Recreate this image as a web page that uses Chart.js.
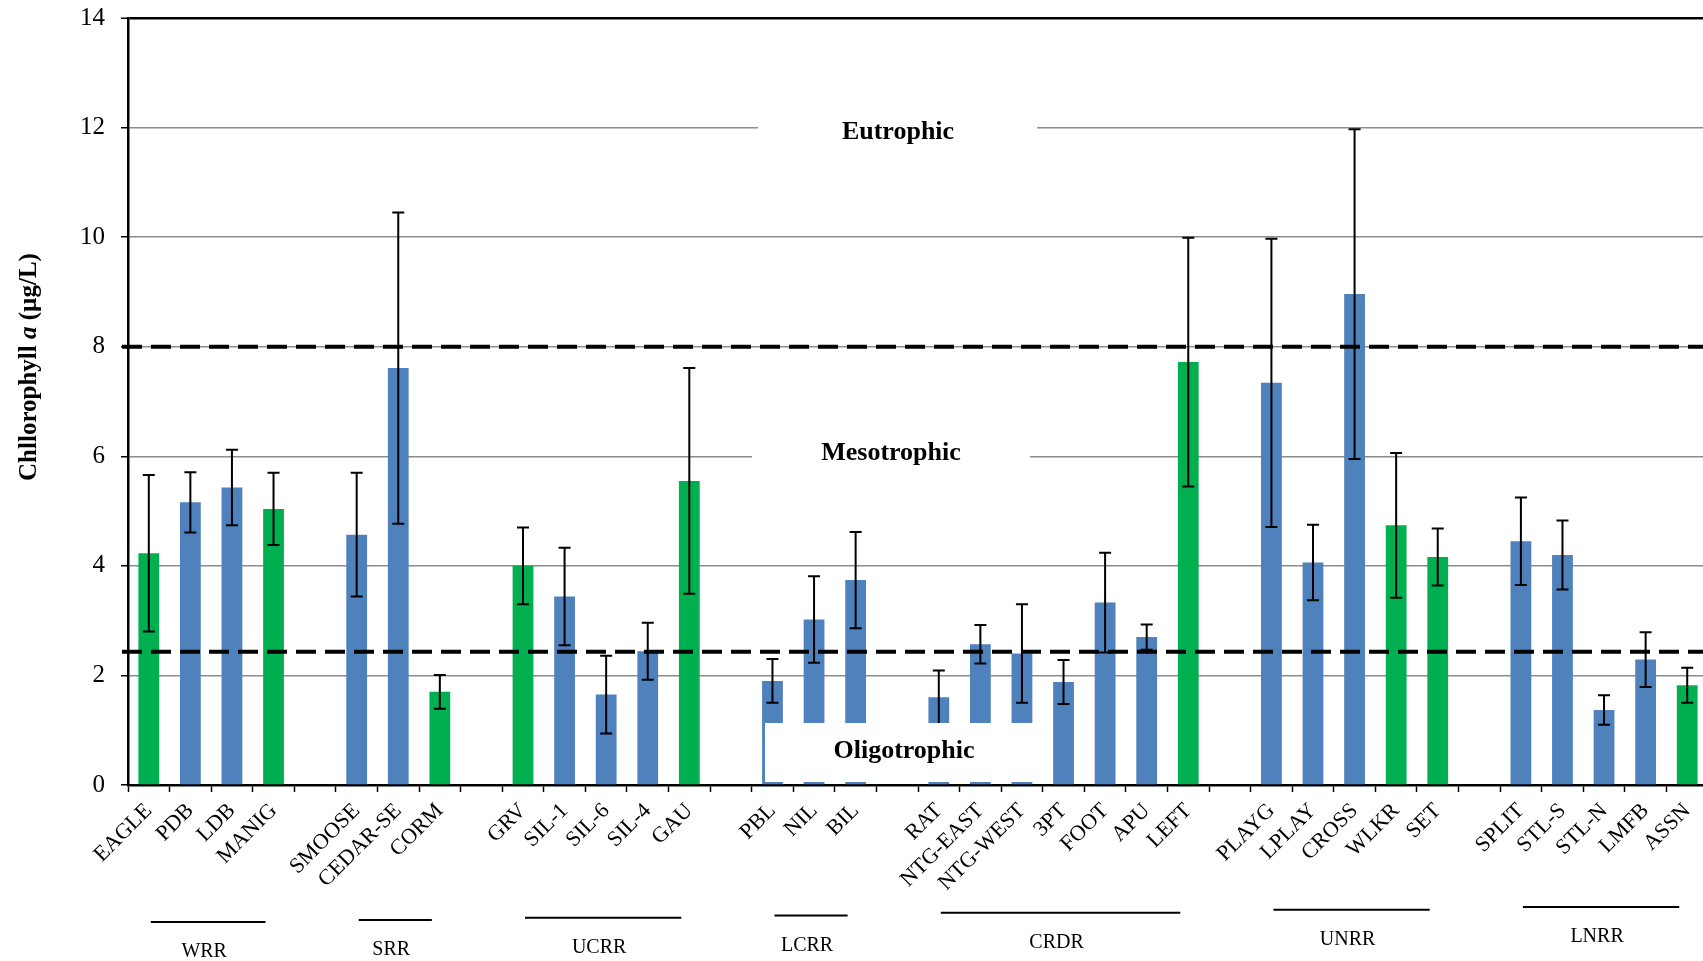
<!DOCTYPE html>
<html>
<head>
<meta charset="utf-8">
<script src="https://cdn.jsdelivr.net/npm/chart.js@4/dist/chart.umd.min.js"></script>
<style>
  html, body { margin: 0; padding: 0; background: #fff; overflow: hidden; }
  #wrap { position: relative; width: 1708px; height: 961px; }
</style>
</head>
<body>
<div id="wrap"><canvas id="chart"></canvas></div>
<script>
// Sites along the x axis ('' = gap between river groups)
const sites = ['EAGLE', 'PDB', 'LDB', 'MANIG', '',
    'SMOOSE', 'CEDAR-SE', 'CORM', '',
    'GRV', 'SIL-1', 'SIL-6', 'SIL-4', 'GAU', '',
    'PBL', 'NIL', 'BIL', '',
    'RAT', 'NTG-EAST', 'NTG-WEST', '3PT', 'FOOT', 'APU', 'LEFT', '',
    'PLAYG', 'LPLAY', 'CROSS', 'WLKR', 'SET', '',
    'SPLIT', 'STL-S', 'STL-N', 'LMFB', 'ASSN'];

// Mean chlorophyll a (ug/L)
const chlMean = [4.23, 5.16, 5.43, 5.04, null,
    4.57, 7.61, 1.70, null,
    4.00, 3.44, 1.65, 2.44, 5.55, null,
    1.90, 3.02, 3.74, null,
    1.60, 2.57, 2.40, 1.88, 3.33, 2.70, 7.72, null,
    7.34, 4.06, 8.96, 4.74, 4.16, null,
    4.45, 4.20, 1.37, 2.29, 1.82];

// Error bar half-lengths
const chlErr = [1.43, 0.55, 0.69, 0.66, null,
    1.13, 2.84, 0.31, null,
    0.70, 0.89, 0.71, 0.52, 2.06, null,
    0.40, 0.79, 0.88, null,
    0.49, 0.35, 0.90, 0.40, 0.91, 0.23, 2.27, null,
    2.63, 0.69, 3.01, 1.32, 0.52, null,
    0.80, 0.63, 0.27, 0.50, 0.32];

// Sites drawn in green
const greenSites = ['EAGLE', 'MANIG', 'CORM', 'GRV', 'GAU', 'LEFT', 'WLKR', 'SET', 'ASSN'];

// River groups
const groupNames = ['WRR', 'SRR', 'UCRR', 'LCRR', 'CRDR', 'UNRR', 'LNRR'];
const groupFirst = ['EAGLE', 'SMOOSE', 'GRV', 'PBL', 'RAT', 'PLAYG', 'SPLIT'];
const groupLast = ['MANIG', 'CORM', 'GAU', 'BIL', 'LEFT', 'SET', 'ASSN'];

// Trophic boundaries (dashed lines)
const trophicBounds = [8, 2.43];
const yTicks = [0, 2, 4, 6, 8, 10, 12, 14];

const SERIF = "'Liberation Serif', 'Times New Roman', serif";
const BLUE = '#4f81bd';
const GREEN = '#00b050';

const overlay = {
    id: 'overlay',
    beforeDatasetsDraw(chart) {
        const { ctx } = chart;
        const y = chart.scales.y;
        // white gaps in the gridlines behind the level labels
        ctx.save();
        ctx.fillStyle = '#fff';
        ctx.fillRect(758, y.getPixelForValue(12) - 4, 279, 8);
        ctx.fillRect(752, y.getPixelForValue(6) - 4, 278, 8);
        ctx.restore();
    },
    afterDatasetsDraw(chart) {
        const { ctx, chartArea } = chart;
        const y = chart.scales.y;
        ctx.save();

        // dashed trophic boundaries
        ctx.strokeStyle = '#000';
        ctx.lineWidth = 4;
        ctx.setLineDash([20, 9]);
        trophicBounds.forEach(v => {
            const py = y.getPixelForValue(v);
            ctx.beginPath();
            ctx.moveTo(chartArea.left - 6, py);
            ctx.lineTo(chartArea.right, py);
            ctx.stroke();
        });
        ctx.setLineDash([]);

        // error bars
        const meta = chart.getDatasetMeta(0);
        ctx.lineWidth = 2;
        meta.data.forEach((bar, i) => {
            if (chlMean[i] == null) return;
            const px = bar.x;
            const top = y.getPixelForValue(chlMean[i] + chlErr[i]);
            const bot = y.getPixelForValue(chlMean[i] - chlErr[i]);
            ctx.beginPath();
            ctx.moveTo(px, top);
            ctx.lineTo(px, bot);
            ctx.moveTo(px - 6, top);
            ctx.lineTo(px + 6, top);
            ctx.moveTo(px - 6, bot);
            ctx.lineTo(px + 6, bot);
            ctx.stroke();
        });

        // oligotrophic label box sits over the bars
        ctx.fillStyle = '#fff';
        ctx.fillRect(765, 723, 275, 59);

        ctx.fillStyle = '#000';
        ctx.font = 'bold 26px ' + SERIF;
        ctx.textAlign = 'center';
        ctx.textBaseline = 'middle';
        ctx.fillText('Eutrophic', 898, 132);
        ctx.fillText('Mesotrophic', 891, 453);
        ctx.fillText('Oligotrophic', 904, 751);
        ctx.restore();
    },
    afterDraw(chart) {
        const { ctx } = chart;
        const x = chart.scales.x;
        ctx.save();

        // river group brackets
        ctx.strokeStyle = '#000';
        ctx.fillStyle = '#000';
        ctx.lineWidth = 2;
        ctx.font = '20px ' + SERIF;
        ctx.textAlign = 'center';
        ctx.textBaseline = 'middle';
        groupNames.forEach((name, g) => {
            const x0 = x.getPixelForValue(sites.indexOf(groupFirst[g])) + 2;
            const x1 = x.getPixelForValue(sites.indexOf(groupLast[g])) - 8;
            const mid = (x0 + x1) / 2;
            const ly = 922 - 15 * (mid - 200) / 1406;
            ctx.beginPath();
            ctx.moveTo(x0, ly);
            ctx.lineTo(x1, ly);
            ctx.stroke();
            ctx.fillText(name, mid - 4, ly + 30);
        });

        // y axis title with italic "a"
        ctx.translate(30, 367);
        ctx.rotate(-Math.PI / 2);
        ctx.textBaseline = 'middle';
        ctx.textAlign = 'left';
        const parts = [
            ['bold 25px ' + SERIF, 'Chllorophyll '],
            ['italic bold 25px ' + SERIF, 'a'],
            ['bold 25px ' + SERIF, ' (\u00b5g/L)']
        ];
        let total = 0;
        parts.forEach(([f, t]) => { ctx.font = f; total += ctx.measureText(t).width; });
        let cx = -total / 2;
        parts.forEach(([f, t]) => {
            ctx.font = f;
            ctx.fillText(t, cx, 0);
            cx += ctx.measureText(t).width;
        });
        ctx.restore();
    }
};

const ctx = document.getElementById('chart');
new Chart(ctx, {
    type: 'bar',
    data: {
        labels: sites,
        datasets: [{
            data: chlMean,
            backgroundColor: sites.map(s => greenSites.includes(s) ? GREEN : BLUE),
            barPercentage: 0.5,
            categoryPercentage: 1.0
        }]
    },
    options: {
        responsive: true,
        maintainAspectRatio: false,
        animation: false,
        layout: { padding: { top: 18, left: 0, right: 0, bottom: 0 } },
        plugins: {
            legend: { display: false },
            tooltip: { enabled: false }
        },
        scales: {
            x: {
                offset: true,
                grid: {
                    offset: true,
                    drawOnChartArea: false,
                    drawTicks: true,
                    tickLength: 7,
                    tickColor: '#000',
                    tickWidth: 1.5
                },
                border: { display: true, color: '#000', width: 2.5 },
                ticks: {
                    autoSkip: false,
                    maxRotation: 45,
                    minRotation: 45,
                    padding: 6,
                    color: '#000',
                    font: { family: SERIF, size: 22 }
                },
                afterFit(scale) {
                    scale.height = 176;
                    scale.paddingLeft = 0;
                    scale.paddingRight = 0;
                }
            },
            y: {
                min: 0,
                max: 14,
                afterBuildTicks(scale) { scale.ticks = yTicks.map(v => ({ value: v })); },
                grid: {
                    color: c => c.tick && c.tick.value === 14 ? '#000' : '#8c8c8c',
                    lineWidth: c => c.tick && c.tick.value === 14 ? 2.5 : 1.5,
                    tickColor: '#000',
                    tickLength: 7,
                    tickWidth: 1.5
                },
                border: { display: true, color: '#000', width: 2.5 },
                ticks: {
                    padding: 16,
                    color: '#000',
                    font: { family: SERIF, size: 25 }
                },
                afterFit(scale) {
                    scale.width = 128;
                    scale.paddingTop = 0;
                    scale.paddingBottom = 0;
                }
            }
        }
    },
    plugins: [overlay]
});
</script>
</body>
</html>
